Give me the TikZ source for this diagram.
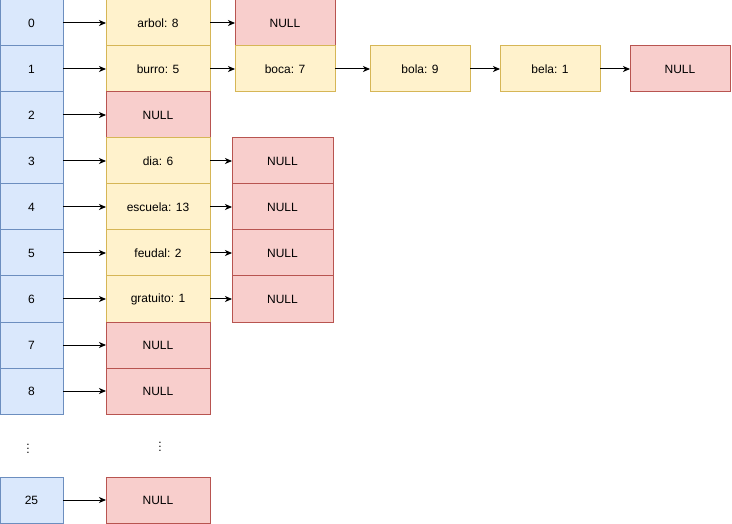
\documentclass[tikz,border=0pt]{standalone}
\usepackage{fontspec}
\setmainfont{Liberation Sans}
\usetikzlibrary{arrows.meta}
\definecolor{idxfill}{HTML}{DAE8FC}
\definecolor{idxline}{HTML}{6C8EBF}
\definecolor{entfill}{HTML}{FFF2CC}
\definecolor{entline}{HTML}{D6B656}
\definecolor{nilfill}{HTML}{F8CECC}
\definecolor{nilline}{HTML}{B85450}

\begin{document}
\begin{tikzpicture}
		[   x=1pt,y=-1pt,font=\fontsize{12}{14}\selectfont,
		    cell/.style={draw=#1line,fill=#1fill,line width=1pt,inner sep=0pt,outer sep=0pt,minimum height=46pt},
		    idx/.style={cell=idx,minimum width=63pt},
		    ent/.style={cell=ent,minimum width=104pt},
		    nil/.style={cell=nil,minimum width=104pt},
		    box/.style={cell=#1,minimum width=100pt},
		]
		\tikzset{normal arrow/.style={draw,line width=1pt,-{Stealth[length=7pt,width=6pt,inset=2pt]}}}
		\useasboundingbox (0,0) rectangle (732,524);
		
		% index column
		\foreach \x in {0,...,8}
		{
			\node[idx] (i-\x) at (31.5,23+46*\x) {\x};
		}
		\node[idx] (i-25) at (31.5,500) {25};
		
		% first entries
		\node[ent] (e-0) at (158,23) {arbol: 8};
		\node[ent] (e-1) at (158,69) {burro: 5};
		\node[nil] (e-2) at (158,115) {NULL};
		\node[ent] (e-3) at (158,161) {dia: 6};
		\node[ent] (e-4) at (158,207) {escuela: 13};
		\node[ent] (e-5) at (158,253) {feudal: 2};
		\node[ent] (e-6) at (158,299) {gratuito: 1};
		\node[nil] (e-7) at (158,345) {NULL};
		\node[nil] (e-8) at (158,391) {NULL};
		\node[nil] (e-25) at (158,500) {NULL};
		
		% chains
		\node[box=nil] (n-0) at (285,23) {NULL};
		
		\node[box=ent] (b-1) at (285,69) {boca: 7};
		\node[box=ent] (b-2) at (420,69) {bola: 9};
		\node[box=ent] (b-3) at (550,69) {bela: 1};
		\node[box=nil] (b-4) at (680,69) {NULL};
		
		\node[box=nil,minimum width=101pt] (n-3) at (282.5,161) {NULL};
		\node[box=nil,minimum width=101pt] (n-4) at (282.5,207) {NULL};
		\node[box=nil,minimum width=101pt] (n-5) at (282.5,253) {NULL};
		\node[box=nil,minimum width=101pt] (n-6) at (282.5,299) {NULL};
		
		% dots
		\node (d-1) at (28,446) {$\vdots$};
		\node (d-2) at (160,444) {$\vdots$};
		
		\foreach \x in {0,...,8,25}
		{
			\path[normal arrow] (i-\x) -- (e-\x);
		}
		
		\foreach \x in {0,3,4,5,6}
		{
			\path[normal arrow] (e-\x) -- (n-\x);
		}
		
		\path[normal arrow] (e-1) -- (b-1);
		\foreach \x [count=\y from 2] in {1,...,3}
		{
			\path[normal arrow] (b-\x) -- (b-\y);
		}
\end{tikzpicture}
\end{document}
